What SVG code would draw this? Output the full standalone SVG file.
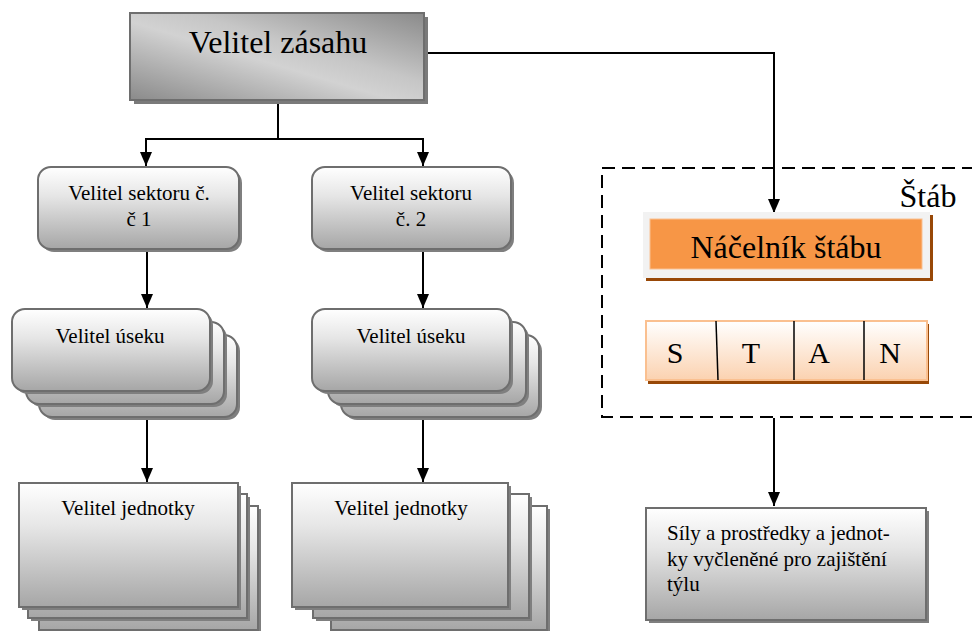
<svg xmlns="http://www.w3.org/2000/svg" width="972" height="631" viewBox="0 0 972 631">
<defs>
<linearGradient id="gTop" x1="0" y1="1" x2="1" y2="0">
<stop offset="0" stop-color="#8a8a8a"/>
<stop offset="0.45" stop-color="#d2d2d2"/>
<stop offset="0.6" stop-color="#c6c6c6"/>
<stop offset="1" stop-color="#8a8a8a"/>
</linearGradient>
<linearGradient id="gV" x1="0" y1="0" x2="0" y2="1">
<stop offset="0" stop-color="#ffffff"/>
<stop offset="0.35" stop-color="#e6e6e6"/>
<stop offset="1" stop-color="#a6a6a6"/>
</linearGradient>
<linearGradient id="gStan" x1="0" y1="0" x2="0" y2="1">
<stop offset="0" stop-color="#ffffff"/>
<stop offset="1" stop-color="#fbd2b0"/>
</linearGradient>
<marker id="arr" viewBox="0 0 14 12" refX="14" refY="6" markerWidth="14" markerHeight="12" markerUnits="userSpaceOnUse" orient="auto">
<path d="M0,0 L14,6 L0,12 Z" fill="#000"/>
</marker>
<style>
text{font-family:"Liberation Serif","Times New Roman",serif;fill:#000}
.t21{font-size:21px}
.c{text-anchor:middle}
.sh{fill:#7f7f7f}
.rb{fill:url(#gV);stroke:#6e6e6e;stroke-width:2}
.conn{fill:none;stroke:#000;stroke-width:2}
</style>
</defs>

<g id="connectors">
<path class="conn" d="M426,53 H774 V213" marker-end="url(#arr)"/>
<path class="conn" d="M278,101 V139 H146 V166" marker-end="url(#arr)"/>
<path class="conn" d="M278,139 H423 V166" marker-end="url(#arr)"/>
<path class="conn" d="M147,251 V308" marker-end="url(#arr)"/>
<path class="conn" d="M423,251 V308" marker-end="url(#arr)"/>
<path class="conn" d="M147,392 V482" marker-end="url(#arr)"/>
<path class="conn" d="M423,392 V482" marker-end="url(#arr)"/>
<path class="conn" d="M774,418 V506" marker-end="url(#arr)"/>
</g>

<g id="velitel-zasahu">
<rect x="134" y="17" width="294" height="87" fill="#7a7a7a"/>
<rect x="130" y="13" width="294" height="87" fill="url(#gTop)" stroke="#6e6e6e" stroke-width="2"/>
<text x="278" y="53" font-size="32" class="c">Velitel zásahu</text>
</g>

<g id="sektor-1">
<rect x="41" y="170" width="201" height="82" rx="13" class="sh"/>
<rect x="38" y="167" width="201" height="82" rx="13" class="rb"/>
<text x="139" y="200" class="t21 c">Velitel sektoru č.</text>
<text x="139" y="226" class="t21 c">č 1</text>
</g>

<g id="sektor-2">
<rect x="315" y="170" width="199" height="82" rx="13" class="sh"/>
<rect x="312" y="167" width="199" height="82" rx="13" class="rb"/>
<text x="411" y="200" class="t21 c">Velitel sektoru</text>
<text x="411" y="226" class="t21 c">č. 2</text>
</g>

<g id="usek-1">
<rect x="42" y="338" width="198" height="82" rx="13" class="sh"/>
<rect x="39" y="335" width="198" height="82" rx="13" class="rb"/>
<rect x="29" y="325" width="198" height="82" rx="13" class="sh"/>
<rect x="26" y="322" width="198" height="82" rx="13" class="rb"/>
<rect x="15" y="312" width="198" height="82" rx="13" class="sh"/>
<rect x="12" y="309" width="198" height="82" rx="13" class="rb"/>
<text x="110" y="343" class="t21 c">Velitel úseku</text>
</g>

<g id="usek-2">
<rect x="344" y="338" width="198" height="82" rx="13" class="sh"/>
<rect x="341" y="335" width="198" height="82" rx="13" class="rb"/>
<rect x="331" y="325" width="198" height="82" rx="13" class="sh"/>
<rect x="328" y="322" width="198" height="82" rx="13" class="rb"/>
<rect x="315" y="312" width="198" height="82" rx="13" class="sh"/>
<rect x="312" y="309" width="198" height="82" rx="13" class="rb"/>
<text x="411" y="343" class="t21 c">Velitel úseku</text>
</g>

<g id="jednotka-1">
<rect x="42" y="509" width="219" height="124" class="sh"/>
<rect x="39" y="506" width="219" height="124" class="rb"/>
<rect x="31" y="497" width="219" height="124" class="sh"/>
<rect x="28" y="494" width="219" height="124" class="rb"/>
<rect x="22" y="486" width="219" height="124" class="sh"/>
<rect x="19" y="483" width="219" height="124" class="rb"/>
<text x="128" y="515" class="t21 c">Velitel jednotky</text>
</g>

<g id="jednotka-2">
<rect x="334" y="509" width="216" height="124" class="sh"/>
<rect x="331" y="506" width="216" height="124" class="rb"/>
<rect x="316" y="497" width="216" height="124" class="sh"/>
<rect x="313" y="494" width="216" height="124" class="rb"/>
<rect x="295" y="486" width="216" height="124" class="sh"/>
<rect x="292" y="483" width="216" height="124" class="rb"/>
<text x="401" y="515" class="t21 c">Velitel jednotky</text>
</g>

<g id="stab">
<path d="M975,168 H602 V417 H975" fill="none" stroke="#000" stroke-width="2" stroke-dasharray="13,7"/>
<text x="928" y="207" font-size="32" class="c">Štáb</text>
</g>

<g id="nacelnik-stabu">
<rect x="646" y="215" width="287" height="66" fill="#984807"/>
<rect x="643" y="212" width="287" height="66" fill="#f2f2f2"/>
<rect x="650" y="219" width="272" height="50" fill="#f79646" stroke="#fac090" stroke-width="1"/>
<text x="786" y="258" font-size="32" class="c">Náčelník štábu</text>
</g>

<g id="stan">
<rect x="648" y="324" width="281" height="60" fill="#984807"/>
<rect x="646" y="321" width="281" height="59" fill="url(#gStan)" stroke="#fac090" stroke-width="2"/>
<line x1="716" y1="321" x2="718" y2="380" stroke="#000" stroke-width="1.5"/>
<line x1="794" y1="321" x2="794" y2="380" stroke="#000" stroke-width="1.5"/>
<line x1="864" y1="321" x2="864" y2="380" stroke="#000" stroke-width="1.5"/>
<text x="675" y="363" font-size="30" class="c">S</text>
<text x="751" y="363" font-size="30" class="c">T</text>
<text x="819" y="363" font-size="30" class="c">A</text>
<text x="890" y="363" font-size="30" class="c">N</text>
</g>

<g id="tyl">
<rect x="649" y="511" width="280" height="112" class="sh"/>
<rect x="646" y="508" width="280" height="112" fill="url(#gV)" stroke="#6e6e6e" stroke-width="2"/>
<text x="667" y="540" class="t21">Síly a prostředky a jednot-</text>
<text x="667" y="566" class="t21">ky vyčleněné pro zajištění</text>
<text x="667" y="591" class="t21">týlu</text>
</g>
</svg>
